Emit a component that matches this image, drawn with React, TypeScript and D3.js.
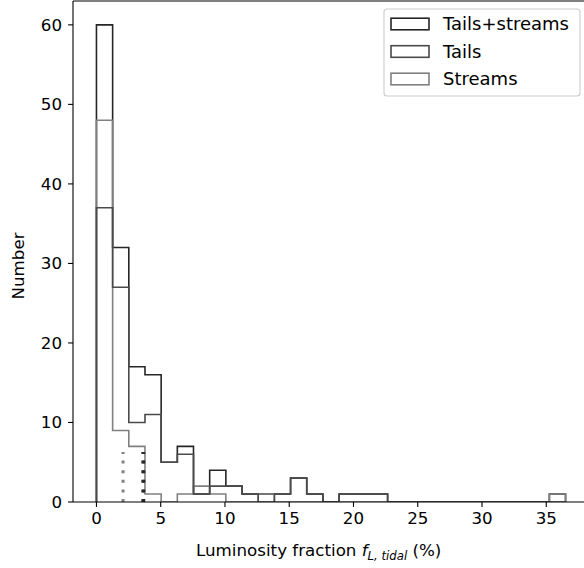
import React from "react";
import * as d3 from "d3";

const binCount = 29;
const binMax = 36.5;
const tailsStreams = [60, 32, 17, 16, 5, 7, 1, 4, 2, 1, 1, 1, 3, 1, 0, 1, 1, 1, 0, 0, 0, 0, 0, 0, 0, 0, 0, 0, 1];
const tails = [37, 27, 10, 11, 5, 6, 1, 2, 2, 1, 0, 1, 3, 1, 0, 1, 1, 1, 0, 0, 0, 0, 0, 0, 0, 0, 0, 0, 0];
const streams = [48, 9, 7, 1, 0, 1, 2, 1, 0, 0, 1, 0, 0, 0, 0, 0, 0, 0, 0, 0, 0, 0, 0, 0, 0, 0, 0, 0, 1];
const seriesNames = ["Tails+streams", "Tails", "Streams"];
const medians = [3.68, 3.6, 2.07];
const xTicks = [0, 5, 10, 15, 20, 25, 30, 35];
const yTicks = [0, 10, 20, 30, 40, 50, 60];

const colors = ["#262626", "#4a4a4a", "#808080"];
const FONT = "DejaVu Sans";

export default function App() {
  const W = 584, H = 568;
  const left = 73, right = 589, top = 1, bottom = 502;
  const x = d3.scaleLinear().domain([-1.825, 38.325]).range([left, right]);
  const y = d3.scaleLinear().domain([0, 63]).range([bottom, top]);
  const bw = binMax / binCount;

  const stepPath = (counts: number[]) => {
    const pts: [number, number][] = [[x(0), y(0)]];
    counts.forEach((c, i) => {
      pts.push([x(i * bw), y(c)]);
      pts.push([x((i + 1) * bw), y(c)]);
    });
    pts.push([x(counts.length * bw), y(0)]);
    return d3.line()(pts) as string;
  };

  const data = [tailsStreams, tails, streams];
  const drawOrder = [0, 2, 1];
  const medianH = 6.3;

  return (
    <svg width={W} height={H} style={{ display: "block", position: "absolute", left: 0, top: 0 }} fontFamily={FONT}>
      <rect x={0} y={0} width={W} height={H} fill="white" />
      <defs>
        <clipPath id="plotclip">
          <rect x={left} y={top} width={right - left} height={bottom - top} />
        </clipPath>
      </defs>
      <g clipPath="url(#plotclip)">
        {drawOrder.map((k) => (
          <path key={k} d={stepPath(data[k])} fill="none" stroke={colors[k]} strokeWidth={1.6} strokeLinejoin="miter" />
        ))}
        {[2, 1, 0].map((k) => (
          <line key={"m" + k} x1={x(medians[k])} x2={x(medians[k])} y1={y(0)} y2={y(medianH)}
            stroke={colors[k]} strokeWidth={3} strokeDasharray="3 6.6" />
        ))}
      </g>
      {/* spines */}
      <line x1={left} x2={left} y1={top} y2={bottom} stroke="black" strokeWidth={1.1} />
      <line x1={left} x2={right} y1={bottom} y2={bottom} stroke="black" strokeWidth={1.1} />
      <line x1={left} x2={right} y1={top} y2={top} stroke="black" strokeWidth={1.1} />
      {/* x ticks */}
      {xTicks.map((t) => (
        <g key={"x" + t}>
          <line x1={x(t)} x2={x(t)} y1={bottom} y2={bottom + 4.9} stroke="black" strokeWidth={1.1} />
          <text x={x(t)} y={bottom + 22} textAnchor="middle" fontSize={16.7}>{t}</text>
        </g>
      ))}
      {yTicks.map((t) => (
        <g key={"y" + t}>
          <line x1={left} x2={left - 4.9} y1={y(t)} y2={y(t)} stroke="black" strokeWidth={1.1} />
          <text x={left - 11} y={y(t)} dy="0.36em" textAnchor="end" fontSize={16.7}>{t}</text>
        </g>
      ))}
      <text x={196} y={556} fontSize={16.7}>
        Luminosity fraction <tspan fontStyle="italic">f</tspan>
        <tspan fontSize={11.7} dy={4} fontStyle="italic">L, tidal</tspan>
        <tspan dy={-4}> (%)</tspan>
      </text>
      <text transform={`translate(24,266) rotate(-90)`} textAnchor="middle" fontSize={16.7}>Number</text>
      {/* legend */}
      <rect x={384} y={9} width={196} height={87} rx={3} fill="white" fillOpacity={0.8} stroke="#cccccc" strokeWidth={1.1} />
      {seriesNames.map((name, i) => {
        const cy = 24 + i * 27.5;
        return (
          <g key={name}>
            <rect x={391} y={cy - 5.8} width={38} height={11.6} fill="white" stroke={colors[i]} strokeWidth={1.6} />
            <text x={443} y={cy} dy="0.36em" fontSize={18}>{name}</text>
          </g>
        );
      })}
    </svg>
  );
}
